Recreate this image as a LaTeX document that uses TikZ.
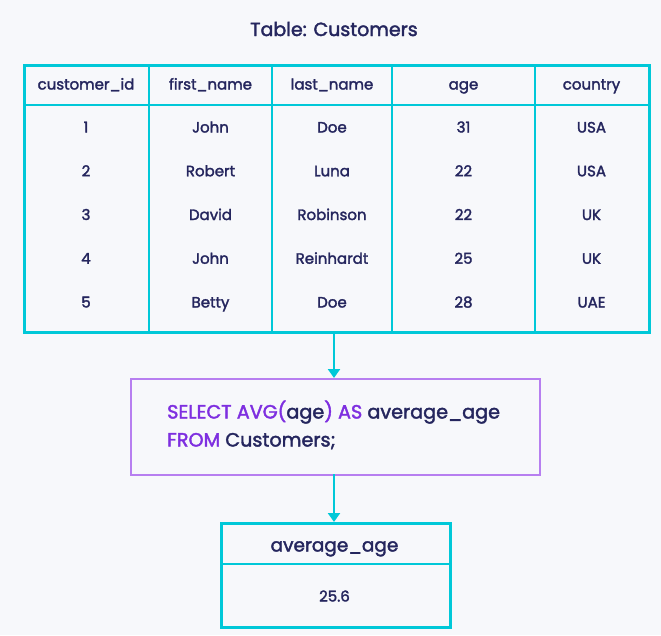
\documentclass[tikz,border=0pt]{standalone}
\usepackage{fontspec}
\setmainfont{Poppins}[FakeBold=2,UprightFeatures={FakeBold=2}]
\usetikzlibrary{arrows.meta}
\definecolor{bg}{HTML}{F7F8FB}
\definecolor{cyanl}{HTML}{00C8D8}
\definecolor{navy}{HTML}{25265E}
\definecolor{purpb}{HTML}{B77FF0}
\definecolor{purpt}{HTML}{7E2FE0}
\tikzset{
  cell/.style={text=navy,font=\fontsize{15}{17}\selectfont,anchor=base},
  big/.style={text=navy,font=\fontsize{18.5}{21}\selectfont},
  tline/.style={draw=cyanl,line width=2.6pt},
  conn/.style={draw=cyanl,line width=2.6pt,-{Triangle[length=9pt,width=12pt]}},
}
\begin{document}
\begin{tikzpicture}[x=1pt,y=-1pt]
\fill[bg] (0,0) rectangle (661,635);
\useasboundingbox (0,0) rectangle (661,635);
\node[big,anchor=base,font=\fontsize{19}{21}\selectfont] (title) at (334,36) {Table: Customers};
% table
\node[tline,minimum width=625,minimum height=267,inner sep=0,anchor=north west] (tbl) at (23,64) {};
\draw[tline] (23,105) -- (648,105);
\foreach \x in {149,272,392,535} \draw[tline] (\x,64) -- (\x,331);
\def\cx{{86,210.5,332,463.5,591.5}}
\foreach \t [count=\i from 0] in {customer\_id,first\_name,last\_name,age,country}
  \node[cell] (h\i) at ({\cx[\i]},89.5) {\t};
\foreach \a/\b/\c/\d/\e [count=\r] in {1/John/Doe/31/USA,2/Robert/Luna/22/USA,3/David/Robinson/22/UK,4/John/Reinhardt/25/UK,5/Betty/Doe/28/UAE}{
  \pgfmathsetmacro\yy{132.5+(\r-1)*43.75}
  \node[cell] at (86,\yy) {\a};
  \node[cell] at (210.5,\yy) {\b};
  \node[cell] at (332,\yy) {\c};
  \node[cell] at (463.5,\yy) {\d};
  \node[cell] at (591.5,\yy) {\e};
}
% query box
\node[draw=purpb,line width=2.2pt,minimum width=409,minimum height=96,inner sep=0,anchor=north west] (q) at (130,378) {};
\node[big,anchor=base west,inner sep=0,font=\fontsize{19.2}{21}\selectfont] (q1) at (167,418.5) {\textcolor{purpt}{SELECT AVG(}age\textcolor{purpt}{) AS} average\_age};
\node[big,anchor=base west,inner sep=0,font=\fontsize{19.2}{21}\selectfont] (q2) at (167,446.5) {\textcolor{purpt}{FROM} Customers;};
% result
\node[tline,minimum width=229,minimum height=104,inner sep=0,anchor=north west] (res) at (220,522) {};
\draw[tline] (220,564) -- (449,564);
\node[big,anchor=base] (rh) at (334.5,551.5) {average\_age};
\node[cell] (rv) at (334.5,601.5) {25.6};
% connectors
\coordinate (a1) at (334,331);
\coordinate (a2) at (334,474);
\draw[conn] (a1) -- (q.north -| a1);
\draw[conn] (a2) -- (res.north -| a2);
\end{tikzpicture}
\end{document}
